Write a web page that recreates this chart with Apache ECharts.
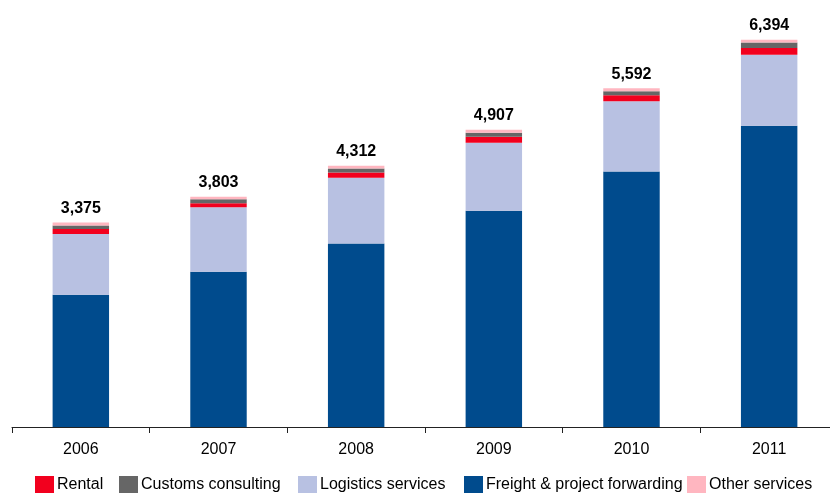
<!DOCTYPE html>
<html>
<head>
<meta charset="utf-8">
<script src="https://cdn.jsdelivr.net/npm/echarts@6/dist/echarts.min.js"></script>
<style>
  html, body { margin: 0; padding: 0; background: #fff; overflow: hidden; }
  #chart { width: 838px; height: 496px; }
</style>
</head>
<body>
<div id="chart"></div>
<script>
// Revenue by business line, stacked per year
const years = ['2006', '2007', '2008', '2009', '2010', '2011'];
const freight = [2184, 2564, 3028, 3569, 4220, 4973];
const logistics = [1003, 1062, 1085, 1123, 1157, 1173];
const rental = [83, 66, 88, 99, 99, 112];
const customs = [55, 66, 66, 66, 66, 89];
const other = [50, 45, 45, 50, 50, 47];
const totals = [3375, 3803, 4312, 4907, 5592, 6394];

// Legend entries in display order, with their left offsets
const legendNames = ['Rental', 'Customs consulting', 'Logistics services', 'Freight & project forwarding', 'Other services'];
const legendLefts = [35, 119, 298, 464, 687];

const font = 'Liberation Sans, Arial, sans-serif';

const chart = echarts.init(document.getElementById('chart'));

function bar(name, data, color, extra) {
  return Object.assign({
    name: name,
    type: 'bar',
    stack: 'total',
    barWidth: '41%',
    data: data,
    itemStyle: { color: color },
    emphasis: { disabled: true }
  }, extra || {});
}

const legends = legendNames.map(function (n, i) {
  return {
    data: [n],
    left: legendLefts[i],
    top: 476,
    padding: 0,
    icon: 'rect',
    itemWidth: 19,
    itemHeight: 17,
    selectedMode: false,
    textStyle: { fontFamily: font, fontSize: 16, color: '#000', padding: [0, 0, 0, -2] }
  };
});

chart.setOption({
  animation: false,
  grid: { left: 12, right: 0, top: 3, bottom: 69 },
  legend: legends,
  xAxis: {
    type: 'category',
    data: years,
    axisLine: { lineStyle: { color: '#222', width: 1 } },
    axisTick: { show: true, length: 6, lineStyle: { color: '#222' } },
    axisLabel: { fontFamily: font, fontSize: 16, color: '#000', margin: 15 }
  },
  yAxis: {
    type: 'value',
    min: 0,
    max: 7000,
    show: false,
    splitLine: { show: false }
  },
  series: [
    bar('Freight & project forwarding', freight, '#004B8D'),
    bar('Logistics services', logistics, '#B8C1E2'),
    bar('Rental', rental, '#F2001E'),
    bar('Customs consulting', customs, '#666666'),
    bar('Other services', other, '#FFB6C0', {
      label: {
        show: true,
        position: 'top',
        distance: 6,
        fontFamily: font,
        fontSize: 16,
        fontWeight: 'bold',
        color: '#000',
        formatter: function (p) {
          return totals[p.dataIndex].toLocaleString('en-US');
        }
      }
    })
  ]
});
</script>
</body>
</html>
